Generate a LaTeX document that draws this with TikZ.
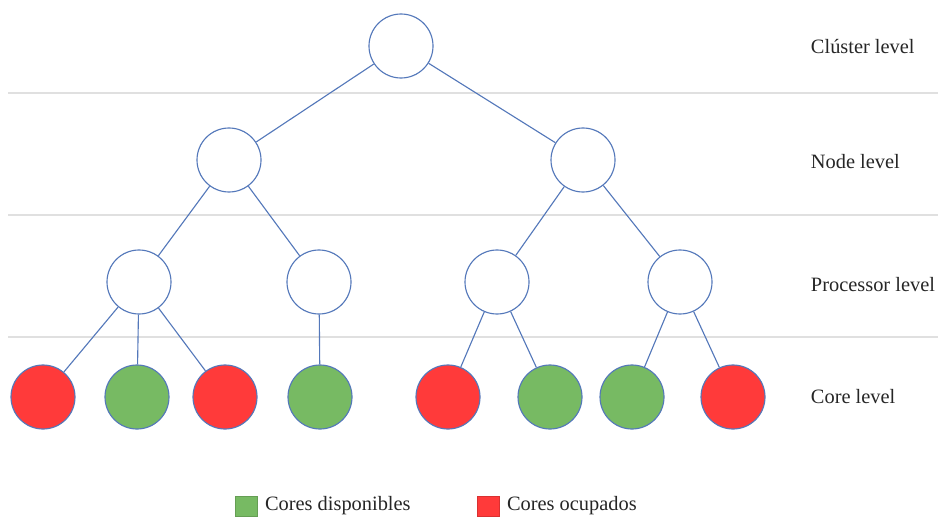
\documentclass[tikz,border=0pt]{standalone}
\usepackage{fontspec}
\setmainfont{Liberation Serif}
\usetikzlibrary{positioning}
\definecolor{linkblue}{RGB}{84,120,186}
\definecolor{coregreen}{RGB}{119,186,99}
\definecolor{corered}{RGB}{255,58,58}
\definecolor{sepgray}{RGB}{224,224,224}
\tikzset{
  treenode/.style={circle,draw=linkblue,thick,fill=white,minimum size=1.6cm,inner sep=0pt},
  freecore/.style={treenode,fill=coregreen},
  busycore/.style={treenode,fill=corered},
  link/.style={linkblue,thick},
  levellabel/.style={anchor=west,font=\fontsize{14.5}{17}\selectfont,text=black!85},
  keybox/.style={minimum width=0.55cm,minimum height=0.5cm,inner sep=0pt}
}
\begin{document}
\begin{tikzpicture}[x=0.025cm,y=-0.025cm]
  \useasboundingbox (0,0) rectangle (938,518);
  % level separators
  \foreach \sy in {93,215,337}
    \draw[sepgray,thick] (8,\sy) -- (938,\sy);
  % tree
  \node[treenode] (clu) at (401,46) {};
  \node[treenode] (nodA) at (229,160) {};
  \node[treenode] (nodB) at (583,160) {};
  \foreach \nname/\px in {proA/139,proB/319,proC/497,proD/680}
    \node[treenode] (\nname) at (\px,282) {};
  \foreach \nname/\px in {corA/43,corC/225,corE/448,corH/733}
    \node[busycore] (\nname) at (\px,397) {};
  \foreach \nname/\px in {corB/137,corD/320,corF/550,corG/632}
    \node[freecore] (\nname) at (\px,397) {};
  % links
  \foreach \pa/\ch in {clu/nodA,clu/nodB,nodA/proA,nodA/proB,nodB/proC,nodB/proD,
      proA/corA,proA/corB,proA/corC,proB/corD,proC/corE,proC/corF,proD/corG,proD/corH}
    \draw[link] (\pa) -- (\ch);
  % level labels
  \node[levellabel] (lvClu) at (806,47) {Clúster level};
  \node[levellabel] (lvNod) at (806,162) {Node level};
  \node[levellabel] (lvPro) at (806,285) {Processor level};
  \node[levellabel] (lvCor) at (806,397) {Core level};
  % legend
  \node[keybox,fill=coregreen,draw=coregreen!85!black] (keyFree) at (246,506) {};
  \node[levellabel,right=2pt of keyFree] (txtFree) {Cores disponibles};
  \node[keybox,fill=corered,draw=corered!85!black] (keyBusy) at (488,506) {};
  \node[levellabel,right=2pt of keyBusy] (txtBusy) {Cores ocupados};
\end{tikzpicture}
\end{document}
